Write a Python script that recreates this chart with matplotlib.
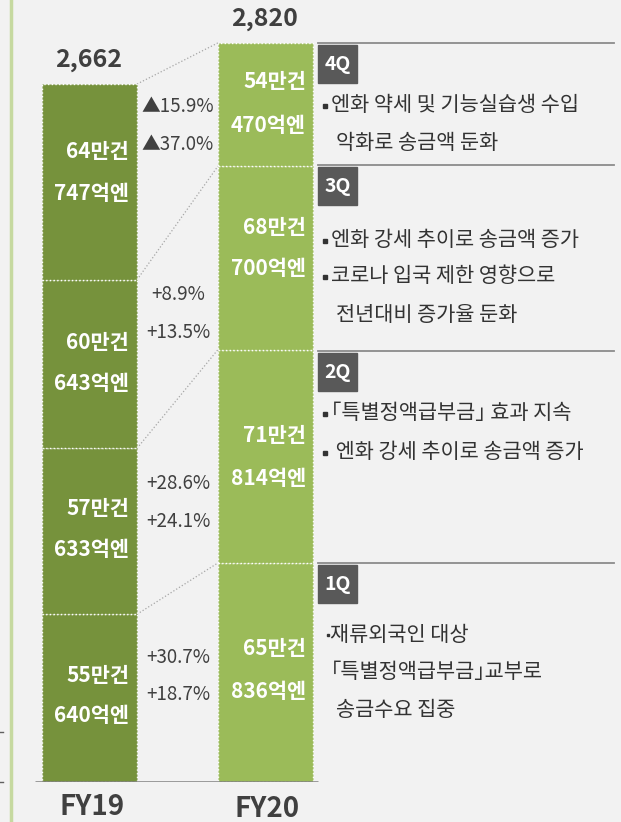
import matplotlib
matplotlib.use('Agg')
import matplotlib.pyplot as plt
import numpy as np

plt.rcParams['font.family'] = ['Noto Sans CJK KR', 'DejaVu Sans']

# ── Data ──────────────────────────────────────────────────────
years   = ['FY19', 'FY20']
totals  = ['2,662', '2,820']
# amounts (억엔) by quarter, 1Q..4Q
fy19_amt = [640, 633, 643, 747]
fy20_amt = [836, 814, 700, 470]
fy19_cnt = [55, 57, 60, 64]   # 만건
fy20_cnt = [65, 71, 68, 54]
growth_cnt = ['+30.7%', '+28.6%', '+8.9%', '▲15.9%']
growth_amt = ['+18.7%', '+24.1%', '+13.5%', '▲37.0%']
quarters = ['1Q', '2Q', '3Q', '4Q']
# (bullet, text) per line
notes = [
    [('·', '재류외국인 대상'), ('', '｢특별정액급부금｣교부로'), ('', '송금수요 집중')],
    [('▪', '｢특별정액급부금｣ 효과 지속'), ('▪', ' 엔화 강세 추이로 송금액 증가')],
    [('▪', '엔화 강세 추이로 송금액 증가'), ('▪', '코로나 입국 제한 영향으로'),
     ('', '전년대비 증가율 둔화')],
    [('▪', '엔화 약세 및 기능실습생 수입'), ('', '악화로 송금액 둔화')],
]

BG    = '#f2f2f2'
DARK  = '#76923c'
LIGHT = '#9bbb59'
TXT   = '#404040'

W, H = 621, 822
fig = plt.figure(figsize=(W / 100, H / 100), dpi=100, facecolor=BG)

# ── Bar axes (data coords) ───────────────────────────────────
px_per_unit = 0.2621
x0_px, dx_px = 89.5, 176.0
base_px = 782
ymax = 2900
ax = fig.add_axes([0, (H - base_px) / H, 1, ymax * px_per_unit / H])
ax.set_xlim(-x0_px / dx_px, (W - x0_px) / dx_px)
ax.set_ylim(0, ymax)
ax.axis('off')
ax.patch.set_alpha(0)

bw = 95 / dx_px
for i, (amts, col) in enumerate([(fy19_amt, DARK), (fy20_amt, LIGHT)]):
    bottoms = np.concatenate([[0], np.cumsum(amts)[:-1]])
    ax.bar(i, amts, bottom=bottoms, width=bw, color=col,
           edgecolor='white', linestyle=':', linewidth=1.0, zorder=2)

# connectors between stacked segment tops
c19 = np.cumsum(fy19_amt)
c20 = np.cumsum(fy20_amt)
for a, b in zip(c19, c20):
    ax.plot([bw / 2, 1 - bw / 2], [a, b], color='#a6a6a6',
            linestyle=':', linewidth=0.9, zorder=1)

ax.plot([-0.31, 1.3], [0, 0], color='#808080', linewidth=1.8,
        zorder=3, solid_capstyle='butt')

# ── Overlay (pixel coords) for text ──────────────────────────
ov = fig.add_axes([0, 0, 1, 1])
ov.set_xlim(0, W)
ov.set_ylim(H, 0)
ov.axis('off')
ov.patch.set_alpha(0)

# left frame line + ticks
ov.plot([11, 11], [0, H], color='#c6d9a0', linewidth=2.5)
for yy in [732, 782]:
    ov.plot([0, 3], [yy, yy], color='#606060', linewidth=1)

# totals and category labels
ov.text(89, 60, totals[0], ha='center', va='center', fontsize=18,
        fontweight='bold', color=TXT)
ov.text(265, 19, totals[1], ha='center', va='center', fontsize=18,
        fontweight='bold', color=TXT)
ov.text(92, 807, years[0], ha='center', va='center', fontsize=20,
        fontweight='bold', color=TXT)
ov.text(267, 809, years[1], ha='center', va='center', fontsize=20,
        fontweight='bold', color=TXT)

# segment labels (count / amount)
lab19_y = [(675, 715), (508, 549), (342, 383), (152, 193)]
lab20_y = [(648, 691), (435, 478), (227, 268), (82, 125)]
for q in range(4):
    for xr, ys, cnt, amt in [(129, lab19_y[q], fy19_cnt[q], fy19_amt[q]),
                             (306, lab20_y[q], fy20_cnt[q], fy20_amt[q])]:
        ov.text(xr, ys[0], f'{cnt}만건', ha='right', va='center',
                fontsize=15, fontweight='bold', color='white')
        ov.text(xr, ys[1], f'{amt}억엔', ha='right', va='center',
                fontsize=15, fontweight='bold', color='white')

# growth rates
gr_y = [(657, 694), (483, 521), (294, 332), (107, 145)]
for q in range(4):
    ov.text(178, gr_y[q][0], growth_cnt[q], ha='center', va='center',
            fontsize=13.5, color=TXT)
    ov.text(178, gr_y[q][1], growth_amt[q], ha='center', va='center',
            fontsize=13.5, color=TXT)

# right panel
line_y = [563, 351, 165, 43]
note_y = [[635, 672, 710], [413, 452], [240, 276, 315], [105, 143]]
NFS = 15
for q in range(4):
    y = line_y[q]
    ov.plot([318, 614], [y, y], color='#8c8c8c', linewidth=1.3)
    ov.add_patch(plt.Rectangle((318, y + 2), 39, 38, color='#595959'))
    ov.text(337.5, y + 21, quarters[q], ha='center', va='center',
            fontsize=14, fontweight='bold', color='white')
    for (b, t), yy in zip(notes[q], note_y[q]):
        if b == '▪':
            ov.plot(324.5, yy + 1, marker='s', markersize=3.0,
                    color='#333333')
            ov.text(331, yy, t, ha='left', va='center', fontsize=NFS,
                    color='#333333')
        elif b == '·':
            ov.plot(327.5, yy, marker='s', markersize=1.6, color='#333333')
            ov.text(330, yy, t, ha='left', va='center', fontsize=NFS,
                    color='#333333')
        else:
            xs = 331 if t.startswith('｢') else 336
            ov.text(xs, yy, t, ha='left', va='center', fontsize=NFS,
                    color='#333333')

plt.savefig('out.png', dpi=100, facecolor=BG)
plt.close()
print("Saved out.png")
